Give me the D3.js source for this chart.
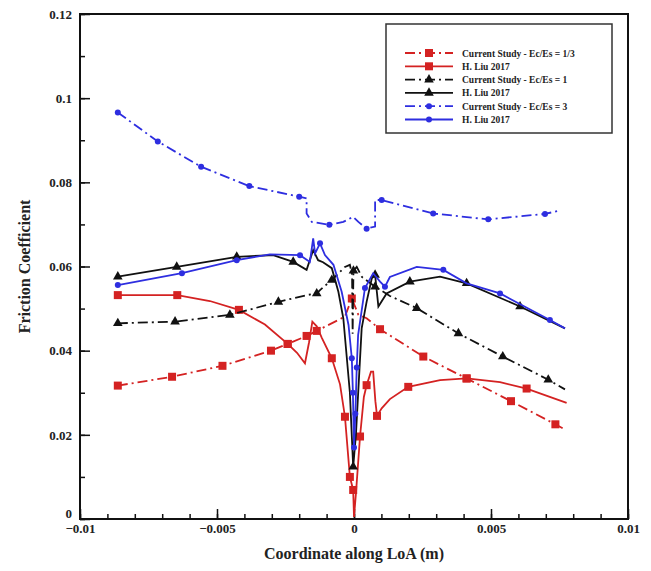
<!DOCTYPE html>
<html>
<head>
<meta charset="utf-8">
<script src="https://cdn.jsdelivr.net/npm/d3@7"></script>
<style>
  body { margin: 0; background: #fff; }
  svg text { font-family: "Liberation Serif", "DejaVu Serif", serif; font-weight: bold; }
</style>
</head>
<body>
<svg width="651" height="571"></svg>
<script>
// x ticks and y ticks
const xTicks = [-0.01, -0.005, 0, 0.005, 0.01];
const yTicks = [0, 0.02, 0.04, 0.06, 0.08, 0.1, 0.12];

// each point: [x, y, marker?]
const red13 = [
  [-0.00862, 0.0317, 1], [-0.00664, 0.0338, 1], [-0.0048, 0.0364, 1], [-0.00303, 0.0400, 1],
  [-0.00242, 0.0416, 1], [-0.00173, 0.0435, 1], [-0.00136, 0.0447, 1], [-0.00033, 0.0481, 0],
  [-0.00008, 0.0524, 1], [0.00016, 0.0485, 0], [0.00046, 0.0477, 0], [0.00095, 0.0451, 1],
  [0.00253, 0.0386, 1], [0.00411, 0.0334, 1], [0.00573, 0.0280, 1], [0.00735, 0.0225, 1],
  [0.00766, 0.0214, 0]
];
const redLiu = [
  [-0.00862, 0.0532, 1], [-0.00645, 0.0532, 1], [-0.00526, 0.0518, 0], [-0.0042, 0.0497, 1],
  [-0.00325, 0.0462, 0], [-0.00242, 0.0416, 1], [-0.00208, 0.0395, 0], [-0.00179, 0.0370, 0],
  [-0.00164, 0.0420, 0], [-0.00152, 0.0469, 0], [-0.00136, 0.0458, 0], [-0.00117, 0.0430, 0],
  [-0.00081, 0.0382, 1], [-0.00051, 0.0320, 0], [-0.00033, 0.0243, 1], [-0.00015, 0.0100, 1],
  [-0.00003, 0.0069, 1], [0, 0.0005, 0], [0.00007, 0.0060, 0], [0.00022, 0.0196, 1],
  [0.00036, 0.0290, 0], [0.00046, 0.0318, 1], [0.00062, 0.0350, 0], [0.0007, 0.0350, 0],
  [0.00078, 0.0280, 0], [0.00084, 0.0245, 1], [0.00101, 0.0263, 0], [0.00131, 0.0285, 0],
  [0.00198, 0.0314, 1], [0.00314, 0.0330, 0], [0.00411, 0.0334, 1], [0.00533, 0.0325, 0],
  [0.0063, 0.0310, 1], [0.00776, 0.0276, 0]
];
const black1 = [
  [-0.00862, 0.0465, 1], [-0.00653, 0.0469, 1], [-0.00453, 0.0485, 1], [-0.00276, 0.0516, 1],
  [-0.00173, 0.0532, 0], [-0.00136, 0.0536, 1], [-0.00124, 0.0544, 0], [-0.00081, 0.0568, 1],
  [-0.00033, 0.0599, 0], [-0.00015, 0.0604, 0], [-0.00007, 0.0580, 0], [-0.00005, 0.0440, 0],
  [-0.00002, 0.0590, 1], [0.0001, 0.0599, 0], [0.00029, 0.0575, 0], [0.00077, 0.0552, 1],
  [0.00131, 0.0530, 0], [0.00229, 0.0501, 1], [0.00381, 0.0441, 1], [0.00543, 0.0386, 1],
  [0.00709, 0.0331, 1], [0.0077, 0.0308, 0]
];
const blackLiu = [
  [-0.00862, 0.0576, 1], [-0.00647, 0.0599, 1], [-0.00428, 0.0623, 1], [-0.00295, 0.0627, 0],
  [-0.00222, 0.0611, 1], [-0.00173, 0.0592, 0], [-0.00149, 0.0639, 0], [-0.00131, 0.0615, 0],
  [-0.00113, 0.0610, 0], [-0.00081, 0.0596, 0], [-0.00057, 0.0540, 0], [-0.00039, 0.0477, 0],
  [-0.00015, 0.0300, 0], [-0.00003, 0.0124, 1], [0.00007, 0.0200, 0], [0.00028, 0.0453, 0],
  [0.00046, 0.0516, 0], [0.00065, 0.0572, 0], [0.00077, 0.0580, 1], [0.00089, 0.0505, 0],
  [0.00119, 0.0536, 0], [0.00204, 0.0564, 1], [0.00314, 0.0576, 0], [0.00411, 0.0560, 1],
  [0.00606, 0.0505, 1], [0.0077, 0.0453, 0]
];
const blue3 = [
  [-0.00862, 0.0966, 1], [-0.00716, 0.0897, 1], [-0.00558, 0.0837, 1], [-0.00382, 0.0791, 1],
  [-0.00200, 0.0766, 1], [-0.00173, 0.0762, 0], [-0.00173, 0.0726, 0], [-0.00154, 0.0706, 0],
  [-0.00090, 0.0699, 1], [-0.00039, 0.0706, 0], [-0.00003, 0.0718, 0], [0.00016, 0.0706, 0],
  [0.00046, 0.0690, 1], [0.00077, 0.0695, 0], [0.00077, 0.0758, 0], [0.00101, 0.0758, 1],
  [0.00289, 0.0726, 1], [0.00490, 0.0712, 1], [0.00697, 0.0725, 1], [0.00752, 0.0733, 0]
];
const blueLiu = [
  [-0.00862, 0.0556, 1], [-0.00628, 0.0584, 1], [-0.00428, 0.0615, 1], [-0.00307, 0.0629, 0],
  [-0.00197, 0.0627, 1], [-0.00161, 0.0611, 0], [-0.00149, 0.0667, 0], [-0.00142, 0.0631, 0],
  [-0.00124, 0.0655, 1], [-0.00106, 0.0627, 0], [-0.00075, 0.0604, 0], [-0.00045, 0.0540, 0],
  [-0.00020, 0.0461, 0], [-0.00008, 0.0382, 1], [-0.00004, 0.0300, 1], [0, 0.0170, 1],
  [0.00005, 0.0250, 1], [0.0001, 0.0360, 1], [0.00015, 0.0437, 0], [0.00040, 0.0549, 1],
  [0.00070, 0.0584, 0], [0.00095, 0.0564, 0], [0.00113, 0.0552, 1], [0.00131, 0.0575, 0],
  [0.00229, 0.0599, 0], [0.00326, 0.0592, 1], [0.00411, 0.0560, 0], [0.00533, 0.0536, 1],
  [0.00715, 0.0473, 1], [0.0077, 0.0453, 0]
];

const RED = "#d42222", BLACK = "#111111", BLUE = "#2e2ee0";
const series = [
  { name: "Current Study - Ec/Es = 1/3", data: red13, color: RED, dash: true, mark: "square" },
  { name: "H. Liu 2017", data: redLiu, color: RED, dash: false, mark: "square" },
  { name: "Current Study - Ec/Es = 1", data: black1, color: BLACK, dash: true, mark: "triangle" },
  { name: "H. Liu 2017", data: blackLiu, color: BLACK, dash: false, mark: "triangle" },
  { name: "Current Study - Ec/Es = 3", data: blue3, color: BLUE, dash: true, mark: "circle" },
  { name: "H. Liu 2017", data: blueLiu, color: BLUE, dash: false, mark: "circle" }
];

const svg = d3.select("svg");
const m = { left: 80, top: 14, right: 23, bottom: 52 };
const w = 651 - m.left - m.right, h = 571 - m.top - m.bottom;

const x = d3.scaleLinear().domain([-0.01, 0.01]).range([0, w]);
const y = d3.scaleLinear().domain([0, 0.12]).range([h, 0]);

const g = svg.append("g").attr("transform", `translate(${m.left},${m.top})`);

// minor ticks
g.append("g").attr("transform", `translate(0,${h})`)
  .call(d3.axisBottom(x).tickValues(d3.range(-0.01, 0.0101, 0.001)).tickSize(-5).tickFormat(""))
  .call(a => a.select(".domain").remove());
g.append("g")
  .call(d3.axisLeft(y).tickValues(d3.range(0, 0.1201, 0.01)).tickSize(-5).tickFormat(""))
  .call(a => a.select(".domain").remove());

// major ticks
const xAxis = g.append("g").attr("transform", `translate(0,${h})`)
  .call(d3.axisBottom(x).tickValues(xTicks).tickSize(-10).tickPadding(5).tickFormat(d => d3.format("")(+d.toFixed(3))));
xAxis.select(".domain").remove();
xAxis.selectAll("text").attr("font-size", 13).attr("fill", "#222");

const yAxis = g.append("g")
  .call(d3.axisLeft(y).tickValues(yTicks).tickSize(-10).tickPadding(8).tickFormat(d => d3.format("")(+d.toFixed(2))));
yAxis.select(".domain").remove();
yAxis.selectAll("text").attr("font-size", 13).attr("fill", "#222");
yAxis.selectAll(".tick").filter(d => d === 0).select("text").attr("dy", "-0.1em");
g.selectAll(".tick line").attr("stroke", "#111").attr("stroke-width", 1.5);

// frame
g.append("rect").attr("width", w).attr("height", h)
  .attr("fill", "none").attr("stroke", "#111").attr("stroke-width", 2);

const line = d3.line().x(d => x(d[0])).y(d => y(d[1]));

function drawMarker(sel, type, color, cx, cy) {
  if (type === "square") {
    sel.append("rect").attr("x", cx - 4).attr("y", cy - 4).attr("width", 8).attr("height", 8).attr("fill", color);
  } else if (type === "triangle") {
    sel.append("path").attr("d", d3.symbol(d3.symbolTriangle, 40)()).attr("transform", `translate(${cx},${cy})`).attr("fill", color);
  } else {
    sel.append("circle").attr("cx", cx).attr("cy", cy).attr("r", 3).attr("fill", color);
  }
}

series.forEach(s => {
  g.append("path").datum(s.data)
    .attr("d", line)
    .attr("fill", "none")
    .attr("stroke", s.color)
    .attr("stroke-width", 1.8)
    .attr("stroke-dasharray", s.dash ? "10,4,2,4" : null);
  const mg = g.append("g");
  s.data.filter(d => d[2]).forEach(d => drawMarker(mg, s.mark, s.color, x(d[0]), y(d[1])));
});

// legend
const lg = svg.append("g").attr("transform", "translate(386,24)");
lg.append("rect").attr("width", 226).attr("height", 109)
  .attr("fill", "#fff").attr("stroke", "#333").attr("stroke-width", 1.5);
series.forEach((s, i) => {
  const ly = 29 + i * 13.3;
  lg.append("line").attr("x1", 19).attr("x2", 67).attr("y1", ly).attr("y2", ly)
    .attr("stroke", s.color).attr("stroke-width", 1.8)
    .attr("stroke-dasharray", s.dash ? "10,4,2,4" : null);
  drawMarker(lg, s.mark, s.color, 43, ly);
  lg.append("text").attr("x", 76).attr("y", ly + 3.5).attr("font-size", 9.5).attr("fill", "#222").text(s.name);
});

// axis titles
svg.append("text").attr("x", m.left + w / 2).attr("y", 559).attr("text-anchor", "middle")
  .attr("font-size", 16).attr("fill", "#222").text("Coordinate along LoA (m)");
svg.append("text").attr("transform", `translate(30,${m.top + h / 2}) rotate(-90)`).attr("text-anchor", "middle")
  .attr("font-size", 16).attr("fill", "#222").text("Friction Coefficient");
</script>
</body>
</html>
